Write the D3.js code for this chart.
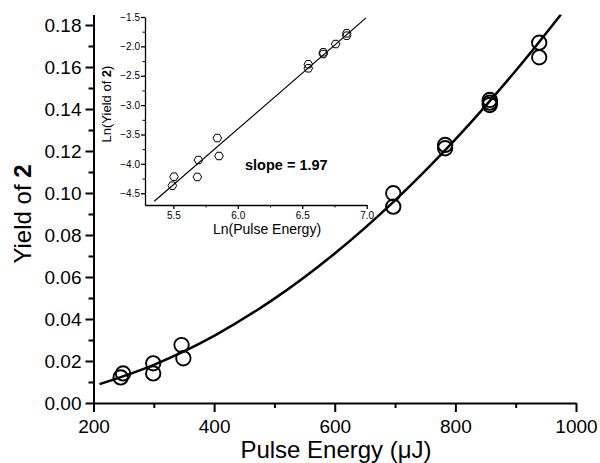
<!DOCTYPE html>
<html>
<head>
<meta charset="utf-8">
<script src="https://cdn.jsdelivr.net/npm/d3@7"></script>
<style>
  body { margin: 0; background: #fff; }
  svg { display: block; font-family: "Liberation Sans", Arial, sans-serif; }
</style>
</head>
<body>
<svg width="600" height="463"></svg>
<script>
// main panel: measured yield vs pulse energy
const energy = [245, 249, 299, 299, 346, 349, 697, 697, 783, 783, 857, 857, 857, 939, 939];
const yieldVals = [0.0122, 0.0141, 0.0189, 0.0141, 0.0276, 0.0213, 0.0999, 0.0935,
                   0.1229, 0.1213, 0.1443, 0.1430, 0.1419, 0.1716, 0.1646];

// fitted curve
const fitEnergy = [210, 300, 400, 500, 600, 700, 800, 900, 975];
const fitYield  = [0.0090, 0.0182, 0.0320, 0.0497, 0.0712, 0.0965, 0.1255, 0.1582, 0.1850];

const xTicks = [200, 400, 600, 800, 1000];
const yTicks = [0, 0.02, 0.04, 0.06, 0.08, 0.10, 0.12, 0.14, 0.16, 0.18];

// inset: ln-ln plot
const lnEnergy = [5.492, 5.505, 5.694, 5.686, 5.841, 5.854, 6.547, 6.547, 6.663, 6.663, 6.759, 6.845, 6.845];
const lnYield  = [-4.371, -4.218, -3.934, -4.223, -3.560, -3.866, -2.305, -2.373, -2.101, -2.130, -1.960, -1.778, -1.818];
const lnFitX = [5.352, 6.995];
const lnFitY = [-4.637, -1.515];
const insetXTicks = [5.5, 6.0, 6.5, 7.0];
const insetYTicks = [-1.5, -2.0, -2.5, -3.0, -3.5, -4.0, -4.5];

const svg = d3.select("svg");

//--------------MAIN SCALES-----------------------------------
const x = d3.scaleLinear().domain([200, 1000]).range([93.5, 576]);
const y = d3.scaleLinear().domain([0, 0.185]).range([403, 14.5]);

svg.append("clipPath").attr("id", "clip")
  .append("rect")
    .attr("x", 93.5).attr("y", 14.5)
    .attr("width", 576 - 93.5).attr("height", 403 - 14.5);

//--------------MAIN AXES-------------------------------------
function styleAxis(g, w) {
  g.select(".domain").attr("stroke-width", w);
  g.selectAll(".tick line").attr("stroke-width", w);
}

const xMinor = svg.append("g")
    .attr("transform", "translate(0,403)")
    .call(d3.axisBottom(x).tickValues(d3.range(300, 1000, 200)).tickSize(5).tickFormat(""));
xMinor.select(".domain").remove();
xMinor.selectAll(".tick line").attr("stroke-width", 2);

const yMinor = svg.append("g")
    .attr("transform", "translate(93.5,0)")
    .call(d3.axisLeft(y).tickValues(d3.range(0.01, 0.18, 0.02)).tickSize(5).tickFormat(""));
yMinor.select(".domain").remove();
yMinor.selectAll(".tick line").attr("stroke-width", 2);

const axisX = svg.append("g")
    .attr("transform", "translate(0,403)")
    .call(d3.axisBottom(x).tickValues(xTicks).tickSize(9).tickSizeOuter(0).tickPadding(8).tickFormat(d3.format("d")));
styleAxis(axisX, 2);
axisX.selectAll("text").attr("font-size", 19).attr("fill", "#000");

const axisY = svg.append("g")
    .attr("transform", "translate(93.5,0)")
    .call(d3.axisLeft(y).tickValues(yTicks).tickSize(8).tickSizeOuter(0).tickPadding(4).tickFormat(d3.format(".2f")));
styleAxis(axisY, 2);
axisY.selectAll("text").attr("font-size", 19).attr("fill", "#000");

svg.append("text")
    .attr("x", 336).attr("y", 458)
    .attr("text-anchor", "middle")
    .attr("font-size", 24)
    .text("Pulse Energy (\u03bcJ)");

const yTitle = svg.append("text")
    .attr("transform", "translate(31,214) rotate(-90)")
    .attr("text-anchor", "middle")
    .attr("font-size", 24);
yTitle.append("tspan").text("Yield of ");
yTitle.append("tspan").attr("font-weight", "bold").text("2");

//--------------MAIN MARKS------------------------------------
const fitPts = fitEnergy.map((e, i) => [e, fitYield[i]]);
svg.append("path")
    .datum(fitPts)
    .attr("clip-path", "url(#clip)")
    .attr("fill", "none")
    .attr("stroke", "#000")
    .attr("stroke-width", 2.5)
    .attr("d", d3.line().x(d => x(d[0])).y(d => y(d[1])).curve(d3.curveCatmullRom));

svg.append("g").selectAll("circle")
  .data(energy.map((e, i) => [e, yieldVals[i]]))
  .join("circle")
    .attr("cx", d => x(d[0]))
    .attr("cy", d => y(d[1]))
    .attr("r", 7.2)
    .attr("fill", "none")
    .attr("stroke", "#000")
    .attr("stroke-width", 1.9);

//--------------INSET-----------------------------------------
const ix = d3.scaleLinear().domain([5.28, 7.0]).range([145, 366.7]);
const iy = d3.scaleLinear().domain([-4.7, -1.5]).range([205, 17]);

const ixMinor = svg.append("g")
    .attr("transform", "translate(0,205)")
    .call(d3.axisBottom(ix).tickValues([5.75, 6.25, 6.75]).tickSize(2.5).tickFormat(""));
ixMinor.select(".domain").remove();

const iyMinor = svg.append("g")
    .attr("transform", "translate(145,0)")
    .call(d3.axisLeft(iy).tickValues([-1.75, -2.25, -2.75, -3.25, -3.75, -4.25]).tickSize(2.5).tickFormat(""));
iyMinor.select(".domain").remove();

const iAxisX = svg.append("g")
    .attr("transform", "translate(0,205)")
    .call(d3.axisBottom(ix).tickValues(insetXTicks).tickSize(4).tickSizeOuter(0).tickPadding(3).tickFormat(d3.format(".1f")));
styleAxis(iAxisX, 1.3);
iAxisX.selectAll("text").attr("font-size", 10).attr("fill", "#000");

const iAxisY = svg.append("g")
    .attr("transform", "translate(145,0)")
    .call(d3.axisLeft(iy).tickValues(insetYTicks).tickSize(4).tickSizeOuter(0).tickPadding(1).tickFormat(d3.format(".1f")));
styleAxis(iAxisY, 1.3);
iAxisY.selectAll("text").attr("font-size", 10).attr("fill", "#000");

svg.append("text")
    .attr("x", 267).attr("y", 234)
    .attr("text-anchor", "middle")
    .attr("font-size", 14)
    .text("Ln(Pulse Energy)");

const iyTitle = svg.append("text")
    .attr("transform", "translate(111,104) rotate(-90)")
    .attr("text-anchor", "middle")
    .attr("font-size", 13);
iyTitle.append("tspan").text("Ln(Yield of ");
iyTitle.append("tspan").attr("font-weight", "bold").text("2");
iyTitle.append("tspan").text(")");

svg.append("text")
    .attr("x", 245).attr("y", 169.5)
    .attr("font-size", 14.5)
    .attr("font-weight", "bold")
    .text("slope = 1.97");

svg.append("path")
    .datum(lnFitX.map((v, i) => [v, lnFitY[i]]))
    .attr("fill", "none")
    .attr("stroke", "#000")
    .attr("stroke-width", 1.2)
    .attr("d", d3.line().x(d => ix(d[0])).y(d => iy(d[1])));

// hexagon marker
const hexagon = {
  draw(ctx, size) {
    const r = Math.sqrt(size / 2.598);
    for (let k = 0; k < 6; k++) {
      const a = Math.PI / 3 * k;
      const px = r * Math.cos(a), py = r * Math.sin(a);
      k ? ctx.lineTo(px, py) : ctx.moveTo(px, py);
    }
    ctx.closePath();
  }
};

svg.append("g").selectAll("path")
  .data(lnEnergy.map((v, i) => [v, lnYield[i]]))
  .join("path")
    .attr("transform", d => `translate(${ix(d[0])},${iy(d[1])})`)
    .attr("d", d3.symbol(hexagon, 2.598 * 4.3 * 4.3))
    .attr("fill", "none")
    .attr("stroke", "#000")
    .attr("stroke-width", 1);
</script>
</body>
</html>
